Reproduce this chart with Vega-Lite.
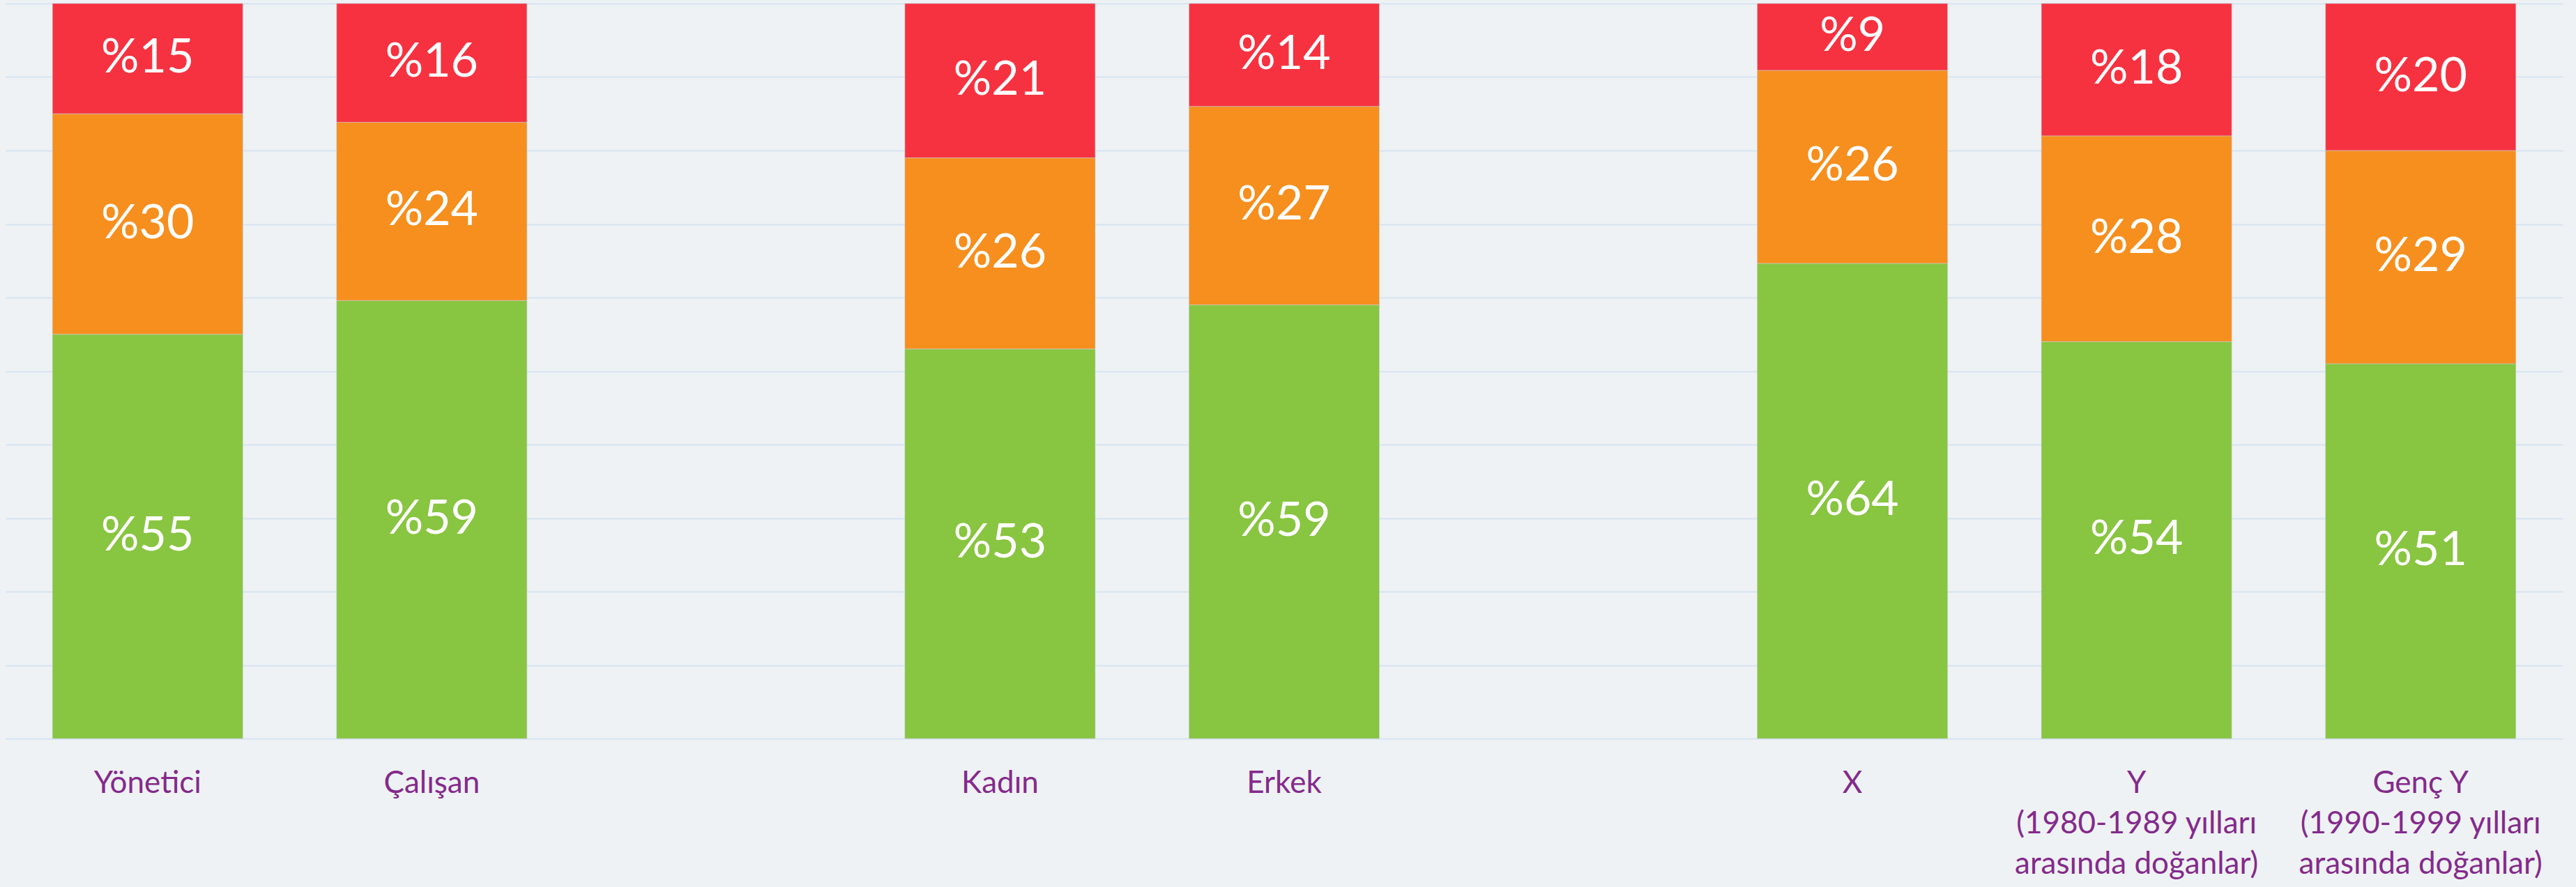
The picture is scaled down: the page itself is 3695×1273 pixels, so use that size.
{
  "$schema": "https://vega.github.io/schema/vega-lite/v6.json",
  "width": 3668,
  "height": 1055,
  "autosize": {"type": "none"},
  "padding": {"left": 8, "top": 5, "right": 19, "bottom": 213},
  "background": "#eef2f4",
  "config": {"view": {"stroke": null}},
  "data": {
    "values": [
      {"cat": "Yönetici", "seg": "Yeşil", "ord": 1, "value": 55},
      {"cat": "Yönetici", "seg": "Turuncu", "ord": 2, "value": 30},
      {"cat": "Yönetici", "seg": "Kırmızı", "ord": 3, "value": 15},
      {"cat": "Çalışan", "seg": "Yeşil", "ord": 1, "value": 59},
      {"cat": "Çalışan", "seg": "Turuncu", "ord": 2, "value": 24},
      {"cat": "Çalışan", "seg": "Kırmızı", "ord": 3, "value": 16},
      {"cat": "Kadın", "seg": "Yeşil", "ord": 1, "value": 53},
      {"cat": "Kadın", "seg": "Turuncu", "ord": 2, "value": 26},
      {"cat": "Kadın", "seg": "Kırmızı", "ord": 3, "value": 21},
      {"cat": "Erkek", "seg": "Yeşil", "ord": 1, "value": 59},
      {"cat": "Erkek", "seg": "Turuncu", "ord": 2, "value": 27},
      {"cat": "Erkek", "seg": "Kırmızı", "ord": 3, "value": 14},
      {"cat": "X", "seg": "Yeşil", "ord": 1, "value": 64},
      {"cat": "X", "seg": "Turuncu", "ord": 2, "value": 26},
      {"cat": "X", "seg": "Kırmızı", "ord": 3, "value": 9},
      {"cat": "Y|(1980-1989 yılları|arasında doğanlar)", "seg": "Yeşil", "ord": 1, "value": 54},
      {"cat": "Y|(1980-1989 yılları|arasında doğanlar)", "seg": "Turuncu", "ord": 2, "value": 28},
      {"cat": "Y|(1980-1989 yılları|arasında doğanlar)", "seg": "Kırmızı", "ord": 3, "value": 18},
      {"cat": "Genç Y|(1990-1999 yılları|arasında doğanlar)", "seg": "Yeşil", "ord": 1, "value": 51},
      {"cat": "Genç Y|(1990-1999 yılları|arasında doğanlar)", "seg": "Turuncu", "ord": 2, "value": 29},
      {"cat": "Genç Y|(1990-1999 yılları|arasında doğanlar)", "seg": "Kırmızı", "ord": 3, "value": 20}
    ]
  },
  "transform": [
    {"stack": "value", "groupby": ["cat"], "sort": [{"field": "ord", "order": "ascending"}], "as": ["v0", "v1"], "offset": "normalize"},
    {"calculate": "(datum.v0 + datum.v1) / 2", "as": "mid"},
    {"calculate": "'%' + datum.value", "as": "label"}
  ],
  "encoding": {
    "x": {
      "field": "cat",
      "type": "nominal",
      "sort": null,
      "scale": {
        "domain": ["Yönetici", "Çalışan", " ", "Kadın", "Erkek", "  ", "X", "Y|(1980-1989 yılları|arasında doğanlar)", "Genç Y|(1990-1999 yılları|arasında doğanlar)"],
        "paddingInner": 0.33,
        "paddingOuter": 0.165
      },
      "axis": {
        "title": null,
        "labelAngle": 0,
        "labelExpr": "split(datum.label, '|')",
        "labelFont": "Lato",
        "labelFontSize": 44,
        "labelColor": "#842a8c",
        "labelLineHeight": 58,
        "labelPadding": 42,
        "labelBaseline": "top",
        "labelLimit": 0,
        "labelOverlap": false,
        "ticks": false,
        "domain": false,
        "grid": false
      }
    }
  },
  "layer": [
    {
      "mark": {"type": "bar", "stroke": "#c8cdd0", "strokeWidth": 1, "strokeOpacity": 0.6},
      "encoding": {
        "y": {
          "field": "v0",
          "type": "quantitative",
          "scale": {"domain": [0, 1], "nice": false},
          "axis": {
            "title": null,
            "labels": false,
            "ticks": false,
            "domain": false,
            "grid": true,
            "gridColor": "#d5e3f2",
            "gridWidth": 2,
            "values": [0, 0.1, 0.2, 0.3, 0.4, 0.5, 0.6, 0.7, 0.8, 0.9, 1]
          }
        },
        "y2": {"field": "v1"},
        "color": {
          "field": "seg",
          "type": "nominal",
          "scale": {"domain": ["Yeşil", "Turuncu", "Kırmızı"], "range": ["#88c540", "#f68f1e", "#f73240"]},
          "legend": null
        }
      }
    },
    {
      "mark": {"type": "text", "color": "white", "font": "Lato", "fontSize": 68, "baseline": "middle", "align": "center"},
      "encoding": {
        "y": {
          "field": "mid",
          "type": "quantitative",
          "axis": {
            "title": null,
            "labels": false,
            "ticks": false,
            "domain": false,
            "grid": true,
            "gridColor": "#d5e3f2",
            "gridWidth": 2,
            "values": [0, 0.1, 0.2, 0.3, 0.4, 0.5, 0.6, 0.7, 0.8, 0.9, 1]
          }
        },
        "text": {"field": "label", "type": "nominal"}
      }
    }
  ]
}
